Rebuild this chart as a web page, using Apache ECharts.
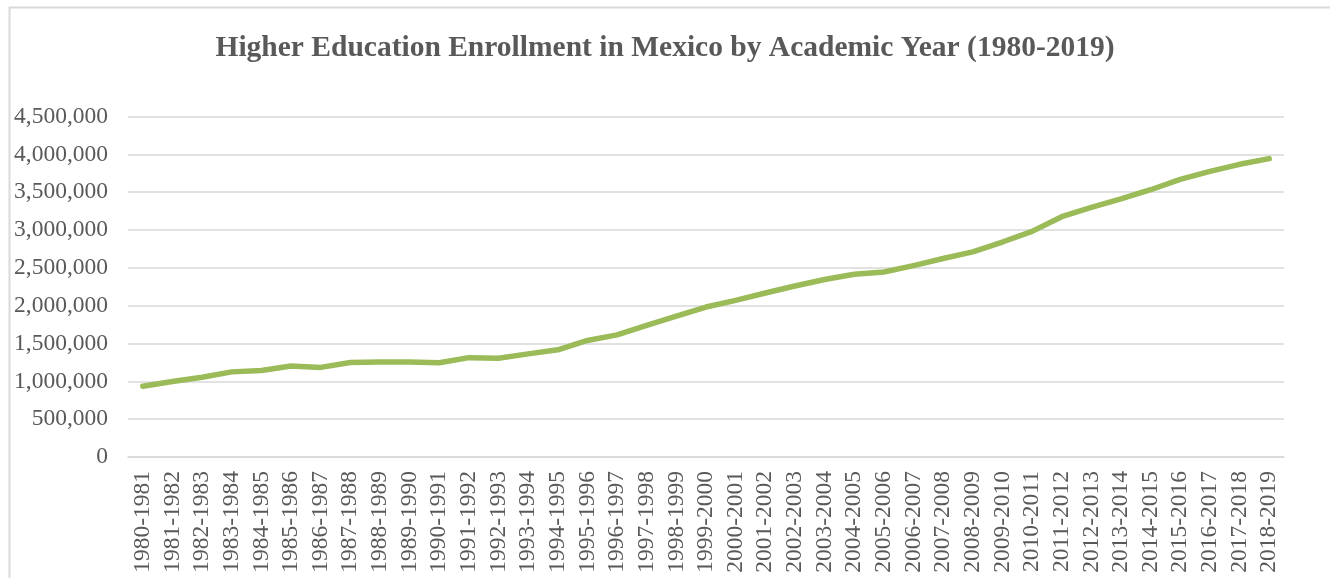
<!DOCTYPE html>
<html>
<head>
<meta charset="utf-8">
<script src="https://cdn.jsdelivr.net/npm/echarts@6/dist/echarts.min.js"></script>
<style>
html,body{margin:0;padding:0;background:#fff;}
#c{width:1330px;height:578px;}
</style>
</head>
<body>
<div id="c"></div>
<script>
const titleText = 'Higher Education Enrollment in Mexico by Academic Year (1980-2019)';
const categories = ['1980-1981','1981-1982','1982-1983','1983-1984','1984-1985','1985-1986','1986-1987','1987-1988','1988-1989','1989-1990','1990-1991','1991-1992','1992-1993','1993-1994','1994-1995','1995-1996','1996-1997','1997-1998','1998-1999','1999-2000','2000-2001','2001-2002','2002-2003','2003-2004','2004-2005','2005-2006','2006-2007','2007-2008','2008-2009','2009-2010','2010-2011','2011-2012','2012-2013','2013-2014','2014-2015','2015-2016','2016-2017','2017-2018','2018-2019'];
const enrollment = [935000,998000,1055000,1125000,1142000,1202000,1184000,1248000,1257000,1257000,1246000,1313000,1305000,1363000,1417000,1540000,1614000,1739000,1862000,1982000,2070000,2167000,2260000,2345000,2416000,2445000,2530000,2623000,2711000,2841000,2982000,3176000,3300000,3411000,3532000,3669000,3775000,3868000,3943000];
const yMin = 0, yMax = 4500000, yStep = 500000;

const chart = echarts.init(document.getElementById('c'), null, {renderer:'canvas'});
const labelFont = '"Liberation Serif","Times New Roman",serif';
chart.setOption({
  backgroundColor:'#ffffff',
  animation:false,
  graphic:[{
    type:'rect', left:7, top:5, z:-1,
    shape:{width:2000, height:1000},
    style:{fill:'none', stroke:'#d9d9d9', lineWidth:2}
  }],
  title:{
    text:titleText, left:'center', top:28,
    textStyle:{fontFamily:labelFont, fontWeight:'bold', fontSize:29.5, color:'#595959'}
  },
  grid:{left:128, right:46, top:116.5, bottom:121, containLabel:false},
  xAxis:{
    type:'category', data:categories, boundaryGap:true,
    axisLine:{show:true, lineStyle:{color:'#d9d9d9', width:1.5}},
    axisTick:{show:false},
    axisLabel:{rotate:90, interval:0, margin:14, color:'#595959', fontFamily:labelFont, fontSize:23.5}
  },
  yAxis:{
    type:'value', min:yMin, max:yMax, interval:yStep,
    axisLine:{show:false}, axisTick:{show:false},
    splitLine:{lineStyle:{color:'#d9d9d9', width:1.5}},
    axisLabel:{margin:20, color:'#595959', fontFamily:labelFont, fontSize:23.5,
      formatter:v=>v.toLocaleString('en-US')}
  },
  series:[{
    type:'line', data:enrollment, symbol:'none', smooth:false,
    lineStyle:{color:'#9bbb59', width:5.5, cap:'round', join:'round'}
  }]
});
</script>
</body>
</html>
